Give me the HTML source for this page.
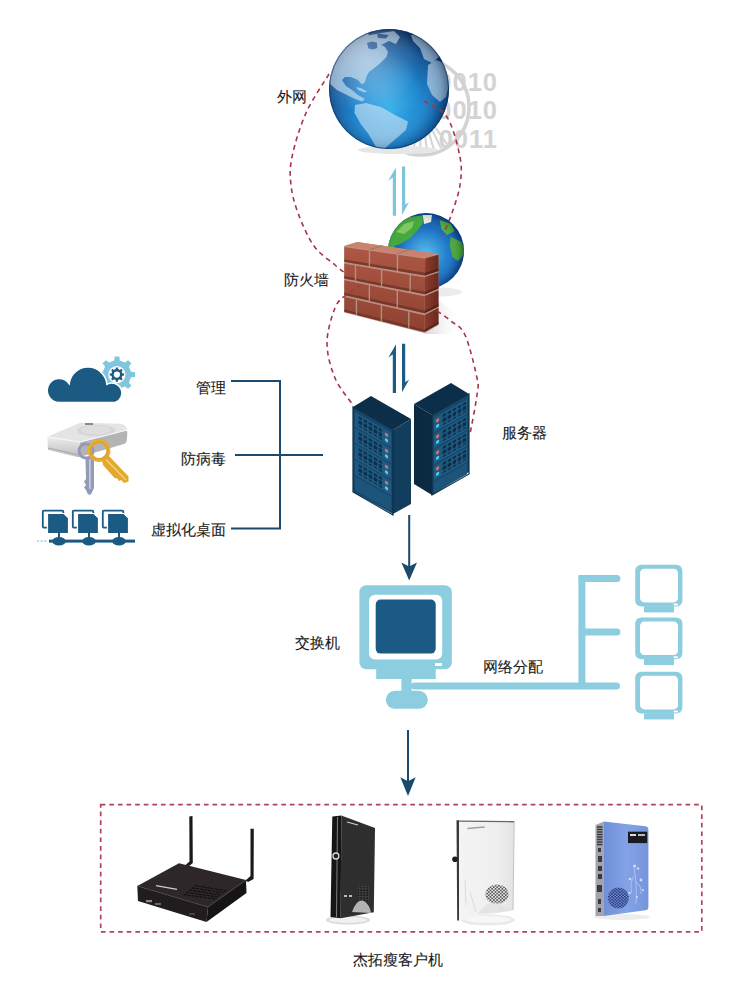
<!DOCTYPE html>
<html><head><meta charset="utf-8">
<style>
html,body{margin:0;padding:0;background:#fff;}
body{width:750px;height:997px;position:relative;overflow:hidden;font-family:"Liberation Sans",sans-serif;}
.t{position:absolute;font-size:15px;line-height:17px;color:#1a1a1a;white-space:nowrap;-webkit-text-stroke:0.1px #1a1a1a;}
svg{position:absolute;left:0;top:0;}
</style></head><body>
<svg width="750" height="997" viewBox="0 0 750 997">
<defs>
  <radialGradient id="gOcean" cx="0.5" cy="0.66" r="0.62">
    <stop offset="0" stop-color="#33aeea"/>
    <stop offset="0.45" stop-color="#1f87cf"/>
    <stop offset="0.8" stop-color="#135596"/>
    <stop offset="1" stop-color="#0b3668"/>
  </radialGradient>
  <radialGradient id="gOcean2" cx="0.5" cy="0.55" r="0.6">
    <stop offset="0" stop-color="#45b8ee"/>
    <stop offset="0.55" stop-color="#1d74c4"/>
    <stop offset="1" stop-color="#0d3c8a"/>
  </radialGradient>
  <clipPath id="cCloud"><rect x="40" y="360" width="90" height="42.5"/></clipPath>
  <clipPath id="cGlobe"><circle cx="389" cy="89" r="60"/></clipPath>
  <clipPath id="cGlobe2"><circle cx="426" cy="251" r="38"/></clipPath>
  <radialGradient id="gShine" cx="0.45" cy="0.5" r="0.55">
    <stop offset="0" stop-color="#ffffff" stop-opacity="0.1"/>
    <stop offset="0.6" stop-color="#ffffff" stop-opacity="0"/>
    <stop offset="0.88" stop-color="#001030" stop-opacity="0.12"/>
    <stop offset="1" stop-color="#001030" stop-opacity="0.4"/>
  </radialGradient>
  <radialGradient id="gGlare" cx="0.3" cy="0.25" r="0.45">
    <stop offset="0" stop-color="#ffffff" stop-opacity="0.35"/>
    <stop offset="1" stop-color="#ffffff" stop-opacity="0"/>
  </radialGradient>
  <pattern id="pVent" x="0" y="0" width="5" height="5.2" patternUnits="userSpaceOnUse"><rect x="0.6" y="0.6" width="3.6" height="3.6" fill="#0d2c45"/></pattern>
  <g id="uL"><rect x="2" y="0" width="36" height="14.5" fill="#1e5a82"/><rect x="4.4" y="1.9" width="25" height="10.4" fill="url(#pVent)"/><circle cx="33.5" cy="4.5" r="1.7" fill="#e8745f"/><circle cx="33.5" cy="10" r="1.7" fill="#5ecbe3"/></g>
  <g id="uR"><rect x="2" y="0" width="33" height="14.5" fill="#1e5a82"/><rect x="9.4" y="1.9" width="25" height="10.4" fill="url(#pVent)"/><circle cx="5.5" cy="4.5" r="1.7" fill="#e8745f"/><circle cx="5.5" cy="10" r="1.7" fill="#5ecbe3"/></g>
  <pattern id="pDots" x="0" y="0" width="3.4" height="3.2" patternUnits="userSpaceOnUse"><ellipse cx="0.85" cy="0.8" rx="1.05" ry="0.8" fill="#484848"/><ellipse cx="2.55" cy="2.4" rx="1.05" ry="0.8" fill="#484848"/></pattern>
  <pattern id="pDotsL" x="0" y="0" width="3" height="2.6" patternUnits="userSpaceOnUse"><rect x="0.3" y="0.3" width="2" height="1.6" fill="#151515"/></pattern>
  <pattern id="pDotsB" x="0" y="0" width="3.2" height="2.8" patternUnits="userSpaceOnUse"><rect width="3.2" height="2.8" fill="#7a98dc"/><circle cx="0.8" cy="0.7" r="0.9" fill="#223277"/><circle cx="2.4" cy="2.1" r="0.9" fill="#223277"/></pattern>
  <linearGradient id="gBrickF" x1="0" y1="0" x2="0" y2="1">
    <stop offset="0" stop-color="#ad5845"/>
    <stop offset="1" stop-color="#8e4130"/>
  </linearGradient>
  <linearGradient id="gBrickS" x1="0" y1="0" x2="1" y2="0">
    <stop offset="0" stop-color="#8c3d2e"/>
    <stop offset="1" stop-color="#6a281d"/>
  </linearGradient>
  <linearGradient id="gWallShadow" x1="0" y1="0" x2="1" y2="0">
    <stop offset="0" stop-color="#cfcfcf" stop-opacity="0.9"/>
    <stop offset="1" stop-color="#ffffff" stop-opacity="0"/>
  </linearGradient>
  <linearGradient id="gBlueFace" x1="0" y1="0" x2="1" y2="0">
    <stop offset="0" stop-color="#6f8fd8"/>
    <stop offset="0.5" stop-color="#84a3e6"/>
    <stop offset="1" stop-color="#7594dc"/>
  </linearGradient>
  <linearGradient id="gHddF" x1="0" y1="0" x2="0" y2="1">
    <stop offset="0" stop-color="#eeeeee"/>
    <stop offset="1" stop-color="#bdbdbd"/>
  </linearGradient>
  <linearGradient id="gWhiteFace" x1="0" y1="0" x2="1" y2="0">
    <stop offset="0" stop-color="#f4f4f4"/>
    <stop offset="0.7" stop-color="#efefef"/>
    <stop offset="1" stop-color="#e2e2e2"/>
  </linearGradient>
  <linearGradient id="gBrick" x1="0" y1="0" x2="1" y2="1">
    <stop offset="0" stop-color="#b4614c"/>
    <stop offset="1" stop-color="#8a3b2c"/>
  </linearGradient>
  <linearGradient id="gHdd" x1="0" y1="0" x2="0" y2="1">
    <stop offset="0" stop-color="#f4f4f4"/>
    <stop offset="0.5" stop-color="#d0d0d0"/>
    <stop offset="1" stop-color="#9a9a9a"/>
  </linearGradient>
</defs>

<!-- ===== gray binary + ring ===== -->
<g fill="#d3d3d3" font-family="Liberation Sans" font-weight="bold" font-size="25.5" letter-spacing="1" text-anchor="end">
  <text x="498" y="91">0010</text>
  <text x="498" y="119">0010</text>
  <text x="498" y="148">0011</text>
</g>
<circle cx="421" cy="107" r="48" fill="none" stroke="#d3d3d3" stroke-width="3.6"/>
<path d="M432.5 123.4 L447.4 144.7 M429.8 125.0 L441.2 148.3 M426.8 126.1 L434.4 151.0 M423.8 126.8 L427.4 152.6 M420.7 127.0 L420.2 153.0 M417.5 126.7 L413.0 152.3 M414.5 125.9 L406.0 150.5 M411.6 124.7 L399.4 147.6 M409.0 123.0 L393.3 143.7 M406.6 120.9 L387.9 139.0 M404.6 118.5 L383.3 133.4" stroke="#d6d6d6" stroke-width="2.2"/>

<!-- ===== dashed ellipse 1 (left, under globe) ===== -->
<g fill="none" stroke="#a8344a" stroke-width="1.6" stroke-dasharray="4.8 4">
  <path d="M329.0 74.0 C325.2 80.5 312.2 99.2 306.0 113.0 C299.8 126.8 294.5 145.0 292.0 157.0 C289.5 169.0 290.0 175.7 291.0 185.0 C292.0 194.3 294.2 202.8 298.0 213.0 C301.8 223.2 307.8 237.3 314.0 246.0 C320.2 254.7 329.0 259.8 335.0 265.0 C341.0 270.2 347.5 275.0 350.0 277.0"/>
</g>

<!-- ===== big globe ===== -->
<g id="globe">
  <ellipse cx="398" cy="150" rx="40" ry="4" fill="#e6e6e6"/>
  <circle cx="389" cy="89" r="60" fill="url(#gOcean)"/>
  <g clip-path="url(#cGlobe)" fill="#d2e6f6" opacity="0.6">
    <path d="M330 60 L345 40 L368 33 L372 44 L380 44 L385 47 L388 52 L386.5 57 L381 62.5 L376 66.7 L369 72 L366.7 76 L365 82 L362 84.5 L358 80 L351 77 L345 77 L342 80 L346 86 L352 90 L358 95 L365 99 L362 101.5 L354 98.5 L345 94 L337 90 L330 84 Z"/>
    <path d="M368 35.5 L381 33 L394 31 L400 37 L396 44 L389 41 L382 44.5 L372 44.5 Z"/>
    <path d="M411 35 L421 32.5 L432 41 L440 56 L432 63 L424 59 L420 48 L413 41 Z"/>
    <path d="M428 65 L436 60 L447 64 L450 80 L446 97 L440 102 L432 95 L427 84 Z"/>
    <path d="M355 105 L366 103 L381 107 L395 115 L408 121.5 L406 130 L395 139.5 L384 149 L376 147 L368.5 134 L361 124.5 L354.5 113 Z"/>
    <path d="M356 87 L362 88.5 L367 91.5 L365 92.5 L358 90 Z"/>
    <path d="M367 43 L372 41.5 L377 42.7 L377.3 48 L373 49.5 L368.5 48.5 Z" fill="#0f4a8a"/>
    <path d="M377 33.5 L388.5 35 L386 38.5 L378 38 Z" fill="#0f4a8a"/>
  </g>
  <circle cx="389" cy="89" r="60" fill="url(#gShine)"/>
  <circle cx="389" cy="89" r="60" fill="url(#gGlare)"/>
  <circle cx="389" cy="89" r="59.5" fill="none" stroke="#0a3060" stroke-width="1" opacity="0.6"/>
</g>

<!-- dashed right over globe -->
<g fill="none" stroke="#a8344a" stroke-width="1.6" stroke-dasharray="4.8 4">
  <path d="M424.0 101.0 C427.8 103.7 441.0 107.7 447.0 117.0 C453.0 126.3 457.8 145.7 460.0 157.0 C462.2 168.3 461.3 175.7 460.0 185.0 C458.7 194.3 454.8 204.7 452.0 213.0 C449.2 221.3 444.5 231.3 443.0 235.0"/>
</g>

<!-- ===== light arrows ===== -->
<g fill="#80c4da">
  <path d="M392.8 215.8 L392.8 177.4 L388 180.8 L396 167.4 L396 215.8 Z"/>
  <path d="M402 166.6 L405.2 166.6 L405.2 204.6 L409 202.2 L402 215 Z"/>
</g>

<!-- ===== small globe ===== -->
<ellipse cx="432" cy="292" rx="30" ry="5" fill="#ececec"/>
<circle cx="426" cy="251" r="38" fill="url(#gOcean2)"/>
<g clip-path="url(#cGlobe2)">
  <path d="M386 244 L389 236 L391 229 L398.5 221.8 L409.7 217 L422.7 215.3 L422.7 223.7 L417 231 L409.7 238.6 L400 244 L394.7 246 L390 250 Z" fill="#43a83a"/>
  <path d="M396 232 L404 224 L414 221 L412 228 L404 234 Z" fill="#8fd06a" opacity="0.8"/>
  <path d="M422.7 215 L432 215 L431 222 L424 224 Z" fill="#e6efe0"/>
  <path d="M439.5 220 L450.7 223.7 L454.5 231 L447 235 L441.4 229 Z" fill="#4fae3c"/>
  <path d="M450.7 236.7 L462 242.3 L464.5 253.5 L458.2 261 L452.6 257.3 L449.8 246 Z" fill="#4caa3a"/>
</g>
<circle cx="426" cy="251" r="38" fill="url(#gShine)"/>
<path d="M424.0 101.0 C427.8 103.7 441.0 107.7 447.0 117.0 C453.0 126.3 457.8 145.7 460.0 157.0 C462.2 168.3 461.3 175.7 460.0 185.0 C458.7 194.3 454.8 204.7 452.0 213.0 C449.2 221.3 444.5 231.3 443.0 235.0" fill="none" stroke="#a8344a" stroke-width="1.6" stroke-dasharray="4.8 4" clip-path="url(#cGlobe2)"/>

<!-- ===== brick wall ===== -->
<g id="wall">
<path d="M438.5 300 L462 318 L452 334 L424.5 334 Z" fill="url(#gWallShadow)"/>
<path d="M344.3 246.0 L357.3 242.0 L438.5 254.0 L438.5 325.0 L424.5 333.0 L344.3 312.5 Z" fill="#b09088"/>
<path d="M344.3 246.0 L357.3 242.0 L438.5 254.0 L425.2 257.5 Z" fill="#c98470"/>
<path d="M369.5 249.6 L382.5 245.6 M397.5 253.5 L410.5 249.5" stroke="#a0685a" stroke-width="0.8"/>
<path d="M344.3 246.7 L368.8 250.2 L368.7 266.0 L344.3 261.8 Z M370.2 250.4 L396.8 254.2 L396.7 270.7 L370.1 266.2 Z M398.2 254.4 L425.2 258.3 L425.0 275.5 L398.1 270.9 Z M344.3 263.3 L354.8 265.1 L354.8 280.5 L344.3 278.5 Z M356.2 265.3 L380.9 269.6 L380.8 285.7 L356.1 280.8 Z M382.3 269.8 L409.6 274.5 L409.4 291.3 L382.2 285.9 Z M410.9 274.7 L425.0 277.1 L424.9 294.3 L410.8 291.6 Z M344.3 279.9 L368.7 284.8 L368.6 300.6 L344.3 295.1 Z M370.1 285.1 L396.6 290.4 L396.5 306.9 L370.0 300.9 Z M398.0 290.6 L424.8 296.0 L424.7 313.2 L397.9 307.2 Z M344.3 296.5 L355.7 299.1 L355.7 314.6 L344.3 311.7 Z M357.1 299.5 L380.8 304.9 L380.7 321.0 L357.1 315.0 Z M382.1 305.2 L408.2 311.1 L408.1 327.9 L382.1 321.3 Z M409.6 311.4 L424.7 314.9 L424.5 332.1 L409.4 328.3 Z" fill="url(#gBrickF)"/>
<path d="M344.3 259.5 L368.8 263.5 L368.7 266.0 L344.3 261.8 Z M370.2 263.8 L396.7 268.1 L396.7 270.7 L370.1 266.2 Z M398.1 268.4 L425.1 272.8 L425.0 275.5 L398.1 270.9 Z M344.3 276.1 L354.8 278.1 L354.8 280.5 L344.3 278.5 Z M356.2 278.4 L380.9 283.2 L380.8 285.7 L356.1 280.8 Z M382.3 283.5 L409.4 288.7 L409.4 291.3 L382.2 285.9 Z M410.8 289.0 L424.9 291.7 L424.9 294.3 L410.8 291.6 Z M344.3 292.7 L368.7 298.1 L368.6 300.6 L344.3 295.1 Z M370.0 298.5 L396.5 304.3 L396.5 306.9 L370.0 300.9 Z M397.9 304.6 L424.7 310.6 L424.7 313.2 L397.9 307.2 Z M344.3 309.4 L355.7 312.2 L355.7 314.6 L344.3 311.7 Z M357.1 312.6 L380.7 318.5 L380.7 321.0 L357.1 315.0 Z M382.1 318.8 L408.1 325.3 L408.1 327.9 L382.1 321.3 Z M409.5 325.7 L424.5 329.5 L424.5 332.1 L409.4 328.3 Z" fill="#6e3025" opacity="0.75"/>
<path d="M425.2 258.3 L438.5 254.7 L438.5 270.9 L425.0 275.5 Z M425.0 277.1 L438.5 272.5 L438.5 288.6 L424.9 294.3 Z M424.8 296.0 L438.5 290.2 L438.5 306.4 L424.7 313.2 Z M424.7 314.9 L438.5 308.0 L438.5 324.1 L424.5 332.1 Z" fill="url(#gBrickS)"/>
<path d="M425.1 272.8 L438.5 268.4 L438.5 270.9 L425.0 275.5 Z M424.9 291.7 L438.5 286.2 L438.5 288.6 L424.9 294.3 Z M424.7 310.6 L438.5 303.9 L438.5 306.4 L424.7 313.2 Z M424.5 329.5 L438.5 321.7 L438.5 324.1 L424.5 332.1 Z" fill="#4e1e16" opacity="0.7"/>
<path d="M344.3 246.7 L368.8 250.2 M370.2 250.4 L396.8 254.2 M398.2 254.4 L425.2 258.3 M344.3 263.3 L354.8 265.1 M356.2 265.3 L380.9 269.6 M382.3 269.8 L409.6 274.5 M410.9 274.7 L425.0 277.1 M344.3 279.9 L368.7 284.8 M370.1 285.1 L396.6 290.4 M398.0 290.6 L424.8 296.0 M344.3 296.5 L355.7 299.1 M357.1 299.5 L380.8 304.9 M382.1 305.2 L408.2 311.1 M409.6 311.4 L424.7 314.9" stroke="#d79a86" stroke-width="0.7" opacity="0.8"/>
</g>

<!-- ===== dashed ellipse 2 ===== -->
<g fill="none" stroke="#a8344a" stroke-width="1.6" stroke-dasharray="4.8 4">
  <path d="M361.0 285.0 C358.5 286.7 350.3 291.2 346.0 295.0 C341.7 298.8 338.2 300.0 335.0 308.0 C331.8 316.0 327.0 331.3 327.0 343.0 C327.0 354.7 330.7 367.7 335.0 378.0 C339.3 388.3 350.0 400.5 353.0 405.0"/>
  <path d="M437.0 311.0 C439.3 312.7 446.3 317.0 451.0 321.0 C455.7 325.0 460.7 325.5 465.0 335.0 C469.3 344.5 475.0 368.0 477.0 378.0 C479.0 388.0 478.2 385.7 477.0 395.0 C475.8 404.3 471.2 427.5 470.0 434.0"/>
</g>

<!-- ===== dark arrows ===== -->
<g fill="#1d5a85">
  <path d="M392.8 393 L392.8 354.6 L388.4 357.4 L396 344.2 L396 393 Z"/>
  <path d="M402 343.8 L405.2 343.8 L405.2 382.2 L409.2 379.4 L402 392.2 Z"/>
</g>

<!-- ===== servers ===== -->
<g id="servers">
  <!-- left rack -->
  <path d="M353 407 L371 396 L411 419 L393 430 Z" fill="#0c2e48"/>
  <path d="M353 407 L393 430 L393 514 L353 492 Z" fill="#17486b"/>
  <path d="M393 430 L411 419 L411 504 L393 514 Z" fill="#123d5c"/>
  <g transform="matrix(1,0.575,0,1,353,407)">
    <use href="#uL" y="4"/><use href="#uL" y="20"/><use href="#uL" y="36"/><use href="#uL" y="52"/>
    <rect x="2" y="68" width="36" height="14" fill="#1d5479"/>
    <path d="M0 0 H40 V85 H0 Z" fill="none" stroke="#0c2e48" stroke-width="1.2"/>
  </g>
  <!-- right rack -->
  <path d="M414 404 L451 383 L469 394 L432 415 Z" fill="#0c2e48"/>
  <path d="M414 404 L432 415 L432 495 L414 484 Z" fill="#0a2a42"/>
  <path d="M432 415 L469 394 L469 472 L432 495 Z" fill="#17486b"/>
  <g transform="matrix(1,-0.567,0,1,432,415)">
    <use href="#uR" y="4"/><use href="#uR" y="20"/><use href="#uR" y="36"/><use href="#uR" y="52"/>
    <rect x="2" y="68" width="33" height="11" fill="#1d5479"/>
    <path d="M0 0 H37 V80 H0 Z" fill="none" stroke="#0c2e48" stroke-width="1.2"/>
  </g>
</g>

<!-- ===== left icons ===== -->

<path d="M113.5 359.9 L114.0 355.7 L120.0 355.7 L120.5 359.9 L124.8 361.7 L128.2 359.1 L132.4 363.3 L129.8 366.7 L131.6 371.0 L135.8 371.5 L135.8 377.5 L131.6 378.0 L129.8 382.3 L132.4 385.7 L128.2 389.9 L124.8 387.3 L120.5 389.1 L120.0 393.3 L114.0 393.3 L113.5 389.1 L109.2 387.3 L105.8 389.9 L101.6 385.7 L104.2 382.3 L102.4 378.0 L98.2 377.5 L98.2 371.5 L102.4 371.0 L104.2 366.7 L101.6 363.3 L105.8 359.1 L109.2 361.7 Z" fill="#80c6df" stroke="#fff" stroke-width="1.5"/>
<circle cx="116.9" cy="374.6" r="8.6" fill="#fff"/>
<path d="M115.7 369.1 L115.9 367.4 L117.9 367.4 L118.1 369.1 L119.9 369.9 L121.3 368.8 L122.7 370.2 L121.6 371.6 L122.4 373.4 L124.1 373.6 L124.1 375.6 L122.4 375.8 L121.6 377.6 L122.7 379.0 L121.3 380.4 L119.9 379.3 L118.1 380.1 L117.9 381.8 L115.9 381.8 L115.7 380.1 L113.9 379.3 L112.5 380.4 L111.1 379.0 L112.2 377.6 L111.4 375.8 L109.7 375.6 L109.7 373.6 L111.4 373.4 L112.2 371.6 L111.1 370.2 L112.5 368.8 L113.9 369.9 Z" fill="#1b5a82"/>
<circle cx="116.9" cy="374.6" r="3.1" fill="#fff"/>

<path d="M60 402.5 A12 12 0 1 1 69.14 383.71 A19 19 0 0 1 106.93 384.37 A10 10 0 1 1 115.1 402.5 Z" fill="#1b5a82" stroke="#fff" stroke-width="1.5"/>
<g id="hdd">
  <path d="M47.3 436.7 L80 442 L78.7 457.3 L48 450 Z" fill="url(#gHddF)"/>
  <path d="M80 442 L125 430.5 Q127.5 430 127.3 433 L126.7 441 Q126.5 443 124 444 L78.7 457.3 Z" fill="#b4b4b4"/>
  <path d="M47.3 436.7 L80 422.7 L120 423.8 Q124 424 126 427 L127.3 430 L80 442 Z" fill="#e4e4e4"/>
  <ellipse cx="96" cy="430.5" rx="19" ry="6" fill="#d6d6d6"/>
  <ellipse cx="96" cy="430" rx="15" ry="4.5" fill="#dedede"/>
  <path d="M47.3 436.7 L80 442 L127.3 430" fill="none" stroke="#f8f8f8" stroke-width="1.1"/>
  <path d="M48 448 L79 455" fill="none" stroke="#9c9c9c" stroke-width="0.8"/>
  <rect x="85" y="423" width="8" height="2" fill="#8a8a8a"/>
</g>
<g id="keys">
  <circle cx="86" cy="451" r="7" fill="none" stroke="#9499b8" stroke-width="3"/>
  <path d="M85.5 458 L94 458 L94 488 L91 494.5 L88 494.5 L86 490 L84 487.5 L86 485 L84 481.5 L86 479 Z" fill="#959ab9"/>
  <rect x="89" y="459" width="1.8" height="30" fill="#c4c8dd"/>
  <circle cx="99" cy="450.5" r="9.4" fill="none" stroke="#e0a52a" stroke-width="4"/>
  <circle cx="99" cy="450.5" r="10.6" fill="none" stroke="#f0c860" stroke-width="0.8" opacity="0.7"/>
  <path d="M102 460 L108.5 455.5 L128.5 476.5 L128.5 481.5 L124 483 L121 480 L119 481 L117 478 L115 478.5 L103 465 Z" fill="#e3a92f"/>
  <path d="M106 459.5 L126 480" stroke="#f7d47c" stroke-width="1.3"/>
</g>

<g id="netpcs">
  <path d="M37 541 H47" stroke="#9fd4e6" stroke-width="1.6" stroke-dasharray="2.2 1.4"/>
  <rect x="49" y="539.6" width="86" height="3" fill="#1b5a82"/>
  <g id="pc1">
    <rect x="42.8" y="510.6" width="20.5" height="17" rx="1" fill="none" stroke="#1b5a82" stroke-width="1.8"/>
    <path d="M47.5 513.5 H64 L68.5 518 V533.5 H47.5 Z" fill="#1b5a82" stroke="#fff" stroke-width="1.2"/>
    <rect x="58" y="533" width="2" height="7" fill="#1b5a82"/>
    <ellipse cx="59" cy="541.2" rx="6.8" ry="4.3" fill="#1b5a82"/>
  </g>
  <use href="#pc1" x="30"/>
  <use href="#pc1" x="60"/>
</g>

<!-- ===== bracket ===== -->
<g fill="none" stroke="#1c4a6e" stroke-width="2">
  <path d="M231 381 H280 V528.5 H231"/>
  <path d="M235 455 H323"/>
</g>

<!-- ===== arrows down ===== -->
<g fill="#1a4a6c">
  <rect x="408.2" y="515" width="2" height="52"/>
  <path d="M401.4 562.5 L409.2 566.5 L417 562.5 L409.2 580.4 Z"/>
  <rect x="407" y="730" width="2" height="52"/>
  <path d="M400.3 777.2 L408 781.2 L415.7 777.2 L408 796 Z"/>
</g>

<!-- ===== switch monitor ===== -->
<g fill="#8dcde0">
  <rect x="359.4" y="585.2" width="92.4" height="84" rx="7"/>
  <rect x="376.2" y="668" width="59.5" height="11"/>
  <rect x="401.4" y="678" width="10.3" height="14"/>
  <rect x="385.8" y="690.8" width="42" height="18" rx="9"/>
  <rect x="411" y="682.4" width="209" height="7" rx="3.5"/>
  <rect x="578.4" y="575" width="7" height="113"/>
  <rect x="578.4" y="575" width="42" height="7" rx="3.5"/>
  <rect x="578.4" y="628.4" width="42" height="7" rx="3.5"/>
</g>
<rect x="369" y="594.8" width="73.2" height="64.8" rx="6" fill="#fff"/>
<rect x="375.7" y="599.6" width="60" height="54" rx="5" fill="#1a5a85"/>
<rect x="435" y="663" width="7" height="3" fill="#fff"/>

<!-- right monitors -->
<g fill="#8dcde0">
  <rect x="635.2" y="564.8" width="47.2" height="41.8" rx="6"/>
  <rect x="644" y="606.2" width="30" height="6.2"/>
  <rect x="635.2" y="617.4" width="47.2" height="41.8" rx="6"/>
  <rect x="644" y="658.8" width="30" height="6.2"/>
  <rect x="635.2" y="671.8" width="47.2" height="41.8" rx="6"/>
  <rect x="644" y="713.2" width="30" height="6.2"/>
</g>
<g fill="#fff">
  <rect x="640" y="568.8" width="38" height="33.6" rx="4.5"/>
  <rect x="673.5" y="603.6" width="4.5" height="2" rx="1"/>
  <rect x="640" y="621.4" width="38" height="33.6" rx="4.5"/>
  <rect x="673.5" y="656.2" width="4.5" height="2" rx="1"/>
  <rect x="640" y="675.8" width="38" height="33.6" rx="4.5"/>
  <rect x="673.5" y="710.6" width="4.5" height="2" rx="1"/>
</g>

<!-- ===== products ===== -->
<g id="p1">
  <path d="M189.3 816.5 L192.5 816 L192.8 863 L188.5 866.5 L185 865.5 L189.5 861.5 Z" fill="#1c1819"/>
  
  <path d="M137.3 886 L179 863.2 L246 880 L208 907 Z" fill="#2e2729"/>
  <path d="M137.3 886 L208 907 L206.5 922 L138 901 Z" fill="#211c1d"/>
  <path d="M208 907 L246 880 L246.5 893 L206.5 922 Z" fill="#171415"/>
  <path d="M137.3 886 L208 907 L246 880" fill="none" stroke="#4a4244" stroke-width="0.7"/>
  <path d="M194.6 885.5 L225.8 890.8 M191.8 887.8 L223.5 892.8 M189.1 890.1 L221.2 894.9 M186.3 892.4 L218.9 897.0 M183.6 894.7 L216.6 899.0" stroke="#121011" stroke-width="1.2" stroke-dasharray="3.2 0.9"/>
  <path d="M156 885.6 L177 889.4" stroke="#cfcfcf" stroke-width="1.3"/>
  <rect x="146" y="900" width="6" height="2.2" fill="#8a8a8a"/>
  <rect x="155" y="903" width="6" height="2" fill="#6a6a6a"/>
  <rect x="189" y="913" width="6" height="2" fill="#444"/>
  <path d="M250.5 828.7 L253.8 828.7 L253.6 879 L248 882 L245.5 880.5 L250.5 876 Z" fill="#1c1819"/>
  
</g>
<g id="p2">
  <ellipse cx="348" cy="920" rx="22" ry="4.5" fill="#d9d9d9"/>
  <ellipse cx="348" cy="920" rx="19" ry="3" fill="#f0f0f0"/>
  <path d="M332.3 816.6 L341.3 815.4 L340.7 918.3 L330.5 917 Z" fill="#161616"/>
  <path d="M341.3 815.4 L375 828 L373.8 912.3 L340.7 918.3 Z" fill="#2e2e2e"/>
  <path d="M337.5 817 L336.5 917" stroke="#8a8a8a" stroke-width="0.9"/>
  <circle cx="335.9" cy="856" r="3" fill="#222" stroke="#d8d8d8" stroke-width="1.3"/>
  <path d="M347 822 L358 825" stroke="#cfcfcf" stroke-width="1.2"/>
  <rect x="357" y="886" width="12" height="15" fill="#444"/><rect x="357" y="886" width="12" height="15" fill="url(#pDotsL)"/>
  <path d="M352 912 Q357 898 364 901 Q370 905 371 913 Z" fill="#d4d4d4" opacity="0.8"/>
  <rect x="344" y="895" width="3" height="2" fill="#bbb"/><rect x="349" y="895" width="3" height="2" fill="#bbb"/>
</g>
<g id="p3">
  <ellipse cx="488" cy="920" rx="27" ry="5.5" fill="#e9e9e9"/>
  <ellipse cx="488" cy="919.5" rx="23" ry="3.6" fill="#f7f7f7"/>
  <path d="M456.5 820.2 L459 820.2 L459 920.5 L457.2 920.4 Z" fill="#3a3a3a"/>
  <path d="M459 820.8 L514.2 821.4 L513 910 L459 920.4 Z" fill="url(#gWhiteFace)"/>
  <path d="M459 820.4 L514.2 821 L514.2 822.4 L459 821.8 Z" fill="#666"/>
  <path d="M514.2 821.4 L513 910" stroke="#c4c4c4" stroke-width="1"/>
  <circle cx="455" cy="859.3" r="2.8" fill="#1e1e1e"/>
  <path d="M467.3 828.5 L484.7 827" stroke="#a0a0a0" stroke-width="1.4"/>
  <ellipse cx="497" cy="894.3" rx="11.5" ry="9.8" fill="url(#pDots)"/>
  <path d="M478 914 Q487 900 497 903 Q508 907 512 911 Z" fill="#dcdcdc" opacity="0.6"/>
  <g stroke="#d0d0d0" stroke-width="0.7" fill="none"><path d="M465 880 L466 905"/><path d="M470 892 L476 912"/></g>
</g>
<g id="p4">
  <ellipse cx="622" cy="917" rx="28" ry="3" fill="#ededed"/>
  <path d="M595.5 825 L603.9 821.4 L603.9 915.9 L595.5 915.9 Z" fill="#a3a3aa"/>
  <g fill="#3a3a3e">
    <path d="M597 827 h5.5 M597 829.5 h5.5 M597 832 h5.5 M597 834.5 h5.5 M597 837 h5.5 M597 839.5 h5.5 M597 842 h5.5 M597 844.5 h5.5" stroke="#3a3a3e" stroke-width="1.3"/><rect x="598" y="848" width="3" height="4"/>
    <rect x="598" y="856" width="4" height="6"/><rect x="598" y="866" width="4" height="5"/>
    <rect x="598" y="874" width="4" height="5"/><rect x="597" y="885" width="5" height="7"/>
    <rect x="598" y="899" width="3" height="5"/><rect x="598" y="908" width="3" height="4"/>
  </g>
  <path d="M603.9 821.4 L645.5 826.3 Q648.4 826.8 648.4 829.8 L648.4 907 Q648.4 909.9 645.5 910.3 L603.9 915.9 Z" fill="url(#gBlueFace)"/>
  <rect x="628" y="831.7" width="19.2" height="11.4" fill="#1a1a22"/>
  <rect x="630" y="834" width="6" height="2" fill="#ddd"/><rect x="638" y="834" width="7" height="2" fill="#bbb"/>
  <circle cx="618.3" cy="898" r="10.5" fill="url(#pDotsB)"/>
  <g stroke="#c9d8f6" stroke-width="0.7" fill="none" opacity="0.9">
    <path d="M634 868 Q637 882 636 904"/><path d="M636 882 Q642 886 641 894"/><path d="M634 876 Q629 884 632 893"/>
  </g>
  <g fill="#dfe8fb" opacity="0.85">
    <circle cx="634.5" cy="866" r="1.6"/><circle cx="638" cy="868.5" r="1.2"/><circle cx="630" cy="879" r="1.3"/>
    <circle cx="641" cy="880" r="1.4"/><circle cx="643" cy="890" r="1.1"/><circle cx="629.5" cy="893" r="1.2"/>
    <circle cx="637" cy="897" r="1"/>
  </g>
</g>

<!-- ===== dashed rect ===== -->
<rect x="100.7" y="804.7" width="601.1" height="127.1" fill="none" stroke="#b04458" stroke-width="1.7" stroke-dasharray="4.7 3.9"/>

</svg>

<div class="t" style="left:277px;top:88px">外网</div>
<div class="t" style="left:284px;top:271px">防火墙</div>
<div class="t" style="left:502px;top:424px">服务器</div>
<div class="t" style="left:196px;top:378.5px">管理</div>
<div class="t" style="left:181px;top:450px">防病毒</div>
<div class="t" style="left:151px;top:521px">虚拟化桌面</div>
<div class="t" style="left:295px;top:634px">交换机</div>
<div class="t" style="left:483px;top:658px">网络分配</div>
<div class="t" style="left:353px;top:951px">杰拓瘦客户机</div>
</body></html>
